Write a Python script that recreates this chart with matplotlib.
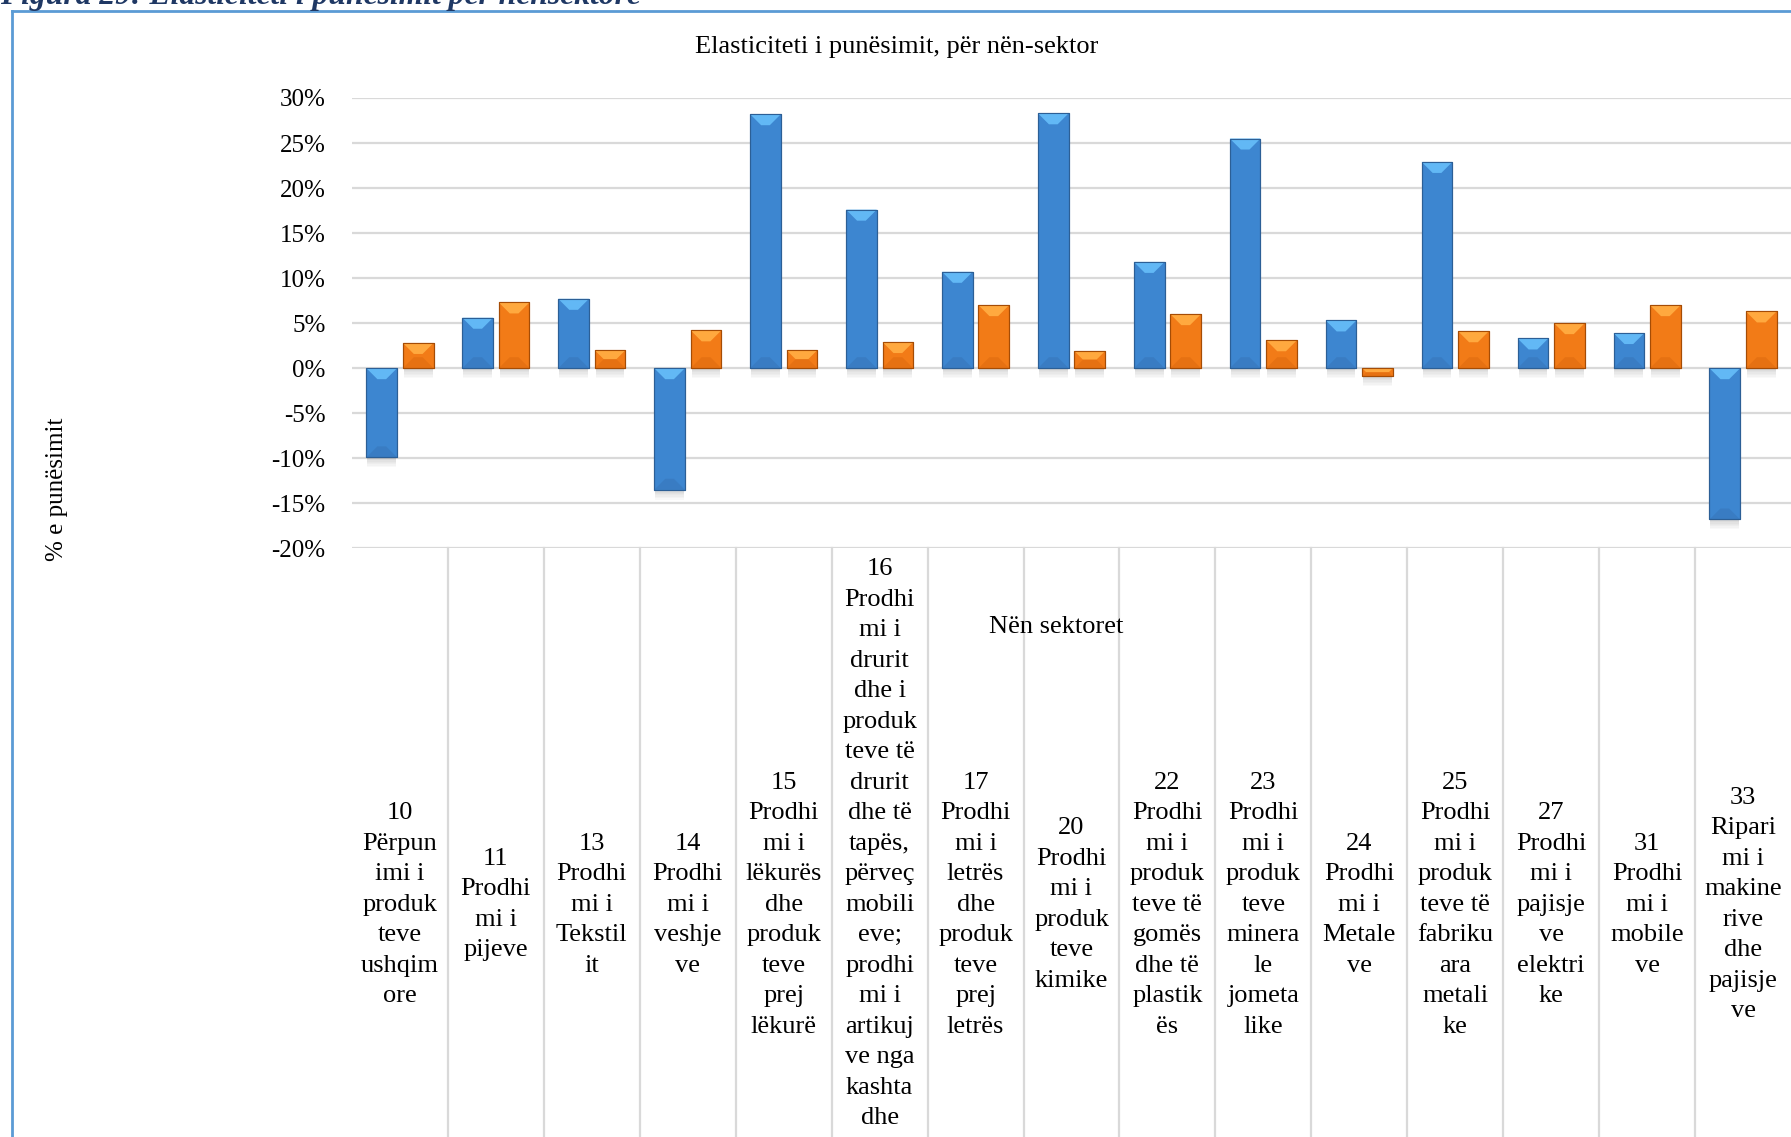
import matplotlib
matplotlib.use("Agg")
import matplotlib.pyplot as plt
from matplotlib.patches import Rectangle, Polygon
from matplotlib.lines import Line2D
from matplotlib.transforms import blended_transform_factory
from matplotlib.ticker import FuncFormatter, MultipleLocator

# ---------------- data ----------------
categories = [
    "10\nPërpun\nimi i\nproduk\nteve\nushqim\nore",
    "11\nProdhi\nmi i\npijeve",
    "13\nProdhi\nmi i\nTekstil\nit",
    "14\nProdhi\nmi i\nveshje\nve",
    "15\nProdhi\nmi i\nlëkurës\ndhe\nproduk\nteve\nprej\nlëkurë",
    "16\nProdhi\nmi i\ndrurit\ndhe i\nproduk\nteve të\ndrurit\ndhe të\ntapës,\npërveç\nmobili\neve;\nprodhi\nmi i\nartikuj\nve nga\nkashta\ndhe\nmateri\naleve\nthurës\ne",
    "17\nProdhi\nmi i\nletrës\ndhe\nproduk\nteve\nprej\nletrës",
    "20\nProdhi\nmi i\nproduk\nteve\nkimike",
    "22\nProdhi\nmi i\nproduk\nteve të\ngomës\ndhe të\nplastik\nës",
    "23\nProdhi\nmi i\nproduk\nteve\nminera\nle\njometa\nlike",
    "24\nProdhi\nmi i\nMetale\nve",
    "25\nProdhi\nmi i\nproduk\nteve të\nfabriku\nara\nmetali\nke",
    "27\nProdhi\nmi i\npajisje\nve\nelektri\nke",
    "31\nProdhi\nmi i\nmobile\nve",
    "33\nRipari\nmi i\nmakine\nrive\ndhe\npajisje\nve",
]
series_blue = [-9.9, 5.6, 7.7, -13.5, 28.2, 17.6, 10.7, 28.3, 11.8, 25.5, 5.3, 22.9, 3.3, 3.9, -16.8]
series_orange = [2.8, 7.3, 2.0, 4.2, 2.0, 2.9, 7.0, 1.9, 6.0, 3.1, -0.9, 4.1, 5.0, 7.0, 6.3]
yticks = [-20, -15, -10, -5, 0, 5, 10, 15, 20, 25, 30]

chart_title = "Elasticiteti i punësimit, për nën-sektor"
y_label = "% e punësimit"
x_title = "Nën sektoret"
caption = "Figura 29: Elasticiteti i punësimit për nënsektore"

# ---------------- figure ----------------
W, H, DPI = 1791, 1137, 100
fig = plt.figure(figsize=(W / DPI, H / DPI), dpi=DPI)
fig.patch.set_facecolor("white")
serif = ["Liberation Serif", "DejaVu Serif"]

ax_left, ax_right = 352 / W, 1.0
ax_top, ax_bottom = 1 - 98 / H, 1 - 548.3 / H
ax = fig.add_axes([ax_left, ax_bottom, ax_right - ax_left, ax_top - ax_bottom])
ax.set_xlim(-0.5, len(categories) - 0.5)
ax.set_ylim(yticks[0], yticks[-1])
for s in ax.spines.values():
    s.set_visible(False)
ax.set_xticks([])
ax.yaxis.set_major_locator(MultipleLocator(5))
ax.yaxis.set_major_formatter(FuncFormatter(lambda v, p: f"{int(round(v))}%"))
ax.tick_params(axis="y", length=0, pad=19, labelsize=18)
for lab in ax.get_yticklabels():
    lab.set_fontfamily(serif)
ax.yaxis.grid(True, color="#d9d9d9", lw=1.6)
ax.set_axisbelow(True)

# pixel -> data scale
px_x = W * (ax_right - ax_left) / (len(categories))
px_y = H * (ax_top - ax_bottom) / (yticks[-1] - yticks[0])

styles = {
    "blue": dict(body="#3d86d0", top="#62b8f5", bot="#3572b4", edge="#2c5f96"),
    "orange": dict(body="#f27b17", top="#ffa93f", bot="#d8660e", edge="#a54c05"),
}

bw = 0.32
off = 0.19


def draw_bar(xc, val, st):
    x0, x1 = xc - bw / 2, xc + bw / 2
    lo, hi = min(0, val), max(0, val)
    h_px = (hi - lo) * px_y
    # soft shadow below the bar
    for k in range(7):
        ax.add_patch(Rectangle((x0 + 0.01, lo - (k + 1) * 1.4 / px_y), bw - 0.02,
                               1.4 / px_y, facecolor="#7a7a7a",
                               alpha=0.30 * (1 - k / 7), lw=0, zorder=2))
    ax.add_patch(Rectangle((x0, lo), bw, hi - lo, facecolor=st["body"],
                           edgecolor=st["edge"], lw=0.8, zorder=3))
    d_px = min(11, h_px / 2)
    dy = d_px / px_y
    dx = d_px / px_x
    ax.add_patch(Polygon([(x0, hi), (x1, hi), (x1 - dx, hi - dy), (x0 + dx, hi - dy)],
                         closed=True, facecolor=st["top"], lw=0, zorder=4))
    ax.add_patch(Polygon([(x0, lo), (x1, lo), (x1 - dx, lo + dy), (x0 + dx, lo + dy)],
                         closed=True, facecolor=st["bot"], lw=0, zorder=4, alpha=0.45))
    ax.add_patch(Rectangle((x0, lo), bw, hi - lo, facecolor="none",
                           edgecolor=st["edge"], lw=0.8, zorder=5))


for i in range(len(categories)):
    draw_bar(i - off, series_blue[i], styles["blue"])
    draw_bar(i + off, series_orange[i], styles["orange"])

# category separators below the plot
tr = blended_transform_factory(ax.transData, fig.transFigure)
for i in range(len(categories) - 1):
    ax.add_line(Line2D([i + 0.5, i + 0.5], [0, ax_bottom], transform=tr,
                       color="#d9d9d9", lw=1.6, clip_on=False))

# category labels
for i, lab in enumerate(categories):
    ax.text(i, 1 - 904.6 / H, lab, transform=tr, ha="center", va="center",
            fontsize=19, family=serif, linespacing=1.5, clip_on=False)

# axis titles
fig.text(1056.5 / W, 1 - 627 / H, x_title, ha="center", va="center",
         fontsize=19, family=serif)
fig.text(57 / W, 1 - 489 / H, y_label, ha="center", va="center",
         rotation=90, fontsize=18, family=serif)
fig.text(896.6 / W, 1 - 47 / H, chart_title, ha="center", va="center",
         fontsize=19, family=serif)

# chart frame (blue) and cropped caption
fig.add_artist(Line2D([12 / W, 1.0], [1 - 11 / H, 1 - 11 / H], transform=fig.transFigure,
                      color="#5b9bd5", lw=2))
fig.add_artist(Line2D([12 / W, 12 / W], [0, 1 - 11 / H], transform=fig.transFigure,
                      color="#5b9bd5", lw=2))
fig.text(0 / W, 1 - 4 / H, caption, ha="left", va="baseline", fontsize=22.8,
         family=serif, style="italic", weight="bold", color="#1f3864")

fig.savefig("out.png", dpi=DPI, facecolor="white")
